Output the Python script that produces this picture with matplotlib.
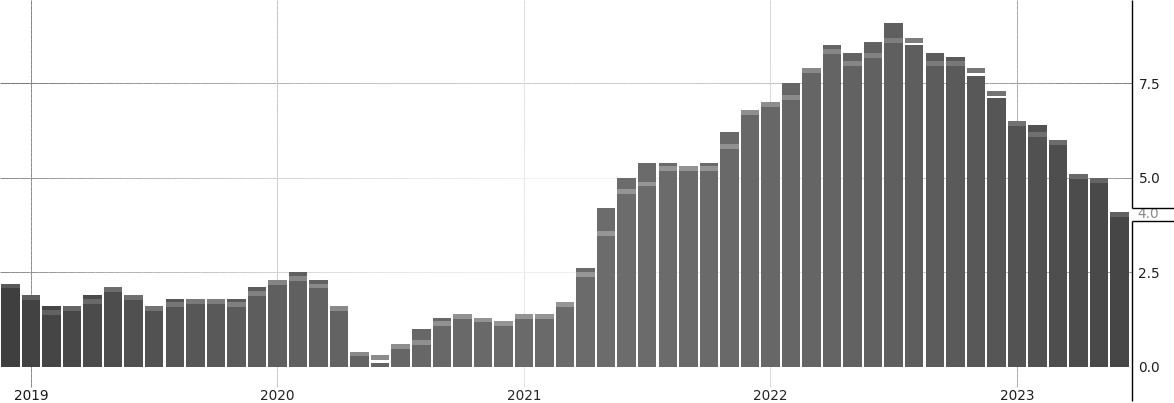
import numpy as np
import matplotlib
matplotlib.use("Agg")
import matplotlib.pyplot as plt
from matplotlib.collections import LineCollection
import pandas as pd

# ---------------- data ----------------
months = [p.strftime("%Y-%m") for p in pd.period_range("2018-11", "2023-05", freq="M")]
actual = [2.2, 1.9, 1.6, 1.5, 1.9, 2.0, 1.8, 1.6, 1.8, 1.7,
          1.7, 1.8, 2.1, 2.3, 2.5, 2.3, 1.5, 0.3, 0.1, 0.6,
          1.0, 1.3, 1.4, 1.2, 1.2, 1.4, 1.4, 1.7, 2.6, 4.2,
          5.0, 5.4, 5.4, 5.3, 5.4, 6.2, 6.8, 7.0, 7.5, 7.9,
          8.5, 8.3, 8.6, 9.1, 8.5, 8.3, 8.2, 7.7, 7.1, 6.5,
          6.4, 6.0, 5.0, 4.9, 4.0]
forecast = [2.2, 1.9, 1.5, 1.6, 1.8, 2.1, 1.9, 1.6, 1.7, 1.8,
            1.8, 1.7, 2.0, 2.3, 2.4, 2.2, 1.6, 0.4, 0.3, 0.6,
            0.7, 1.2, 1.4, 1.3, 1.2, 1.4, 1.4, 1.7, 2.5, 3.6,
            4.7, 4.9, 5.3, 5.3, 5.3, 5.9, 6.8, 7.0, 7.2, 7.9,
            8.4, 8.1, 8.3, 8.7, 8.7, 8.1, 8.1, 7.9, 7.3, 6.5,
            6.2, 6.0, 5.1, 5.0, 4.1]
year_labels = ["2019", "2020", "2021", "2022", "2023"]
y_ticks = [0.0, 2.5, 5.0, 7.5]
last_label = "4.0"

# ---------------- layout ----------------
W, H = 1174, 403
AX_W = 1131.5
fig = plt.figure(figsize=(W / 100, H / 100), dpi=100)
ax = fig.add_axes([0, 0, AX_W / W, 1])
x = np.arange(len(months))
xlim = (-0.51, -0.51 + AX_W / 20.54)
ylim = (-0.961, 9.704)
ax.set_xlim(xlim)
ax.set_ylim(ylim)


def to_px(xv, yv):
    px = (np.asarray(xv, float) - xlim[0]) / (xlim[1] - xlim[0]) * AX_W
    py = (ylim[1] - np.asarray(yv, float)) / (ylim[1] - ylim[0]) * H
    return px, py


def shade(xv, yv):
    px, py = to_px(xv, yv)
    d = np.clip(((px - 585) / 585) ** 2 + ((py - 230) / 650) ** 2, 0, 1)
    return 1 - 0.42 * d


def grey(v):
    v = float(np.clip(v, 0, 255)) / 255
    return (v, v, v)


# ---------------- gridlines ----------------
def grad_line(xs, ys, base):
    xs = np.asarray(xs, float)
    ys = np.asarray(ys, float)
    pts = np.column_stack([xs, ys])
    segs = np.stack([pts[:-1], pts[1:]], axis=1)
    mx = (xs[:-1] + xs[1:]) / 2
    my = (ys[:-1] + ys[1:]) / 2
    cols = [grey(base * s) for s in shade(mx, my)]
    lc = LineCollection(segs, colors=cols, linewidths=0.72, capstyle="butt", zorder=1)
    lc.set_snap(True)
    ax.add_collection(lc)


for yv in y_ticks[1:]:
    base = 210 if yv == 7.5 else 240
    xs = np.linspace(xlim[0], xlim[1], 120)
    grad_line(xs, np.full_like(xs, yv), base)

tick_pos = [months.index(f"{int(y) - 1}-12") for y in year_labels]
for tp, lab in zip(tick_pos, year_labels):
    ys = np.linspace(-0.55, ylim[1], 80)
    grad_line(np.full_like(ys, tp), ys, 232)
    s = float(shade(tp, -0.8))
    ax.text(tp, -0.78, lab, ha="center", va="center", fontsize=9.8,
            color=grey(40 * s))

# ---------------- bars ----------------
act = np.array(actual)
fc = np.array(forecast)
bar_cols = [grey(108 * shade(xi, a / 2)) for xi, a in zip(x, act)]
ax.bar(x, act, width=0.9, color=bar_cols, linewidth=0, zorder=2)
band_h = 0.13
band_cols = [grey(150 * shade(xi, f)) for xi, f in zip(x, fc)]
ax.bar(x, band_h, bottom=fc - band_h, width=0.9, color=band_cols, linewidth=0, zorder=3)

# ---------------- axes styling ----------------
for sp in ax.spines.values():
    sp.set_visible(False)
ax.set_xticks([])
ax.yaxis.tick_right()
ax.set_yticks(y_ticks)
ax.set_yticklabels([f"{v:.1f}" for v in y_ticks], fontsize=9.8, color="#1e1e1e")
ax.tick_params(axis="y", length=0, pad=5)

# right spine with price box
tr = ax.get_yaxis_transform()
last = act[-1]
gap = 0.176
yc = last + 0.03
kw = dict(color="black", lw=1.0, transform=tr, clip_on=False, zorder=5,
          solid_capstyle="butt")
ax.plot([1, 1], [yc + gap, ylim[1]], **kw)
ax.plot([1, 1], [ylim[0] + 0.04, yc - gap], **kw)
xr = W / AX_W
ax.plot([1, xr], [yc + gap, yc + gap], **kw)
ax.plot([1, xr], [yc - gap, yc - gap], **kw)
ax.text(1 + 5.5 / AX_W, yc, last_label, transform=tr, ha="left", va="center",
        fontsize=9.8, color="#8a8a8a", clip_on=False)

fig.savefig("out.png", dpi=100)
